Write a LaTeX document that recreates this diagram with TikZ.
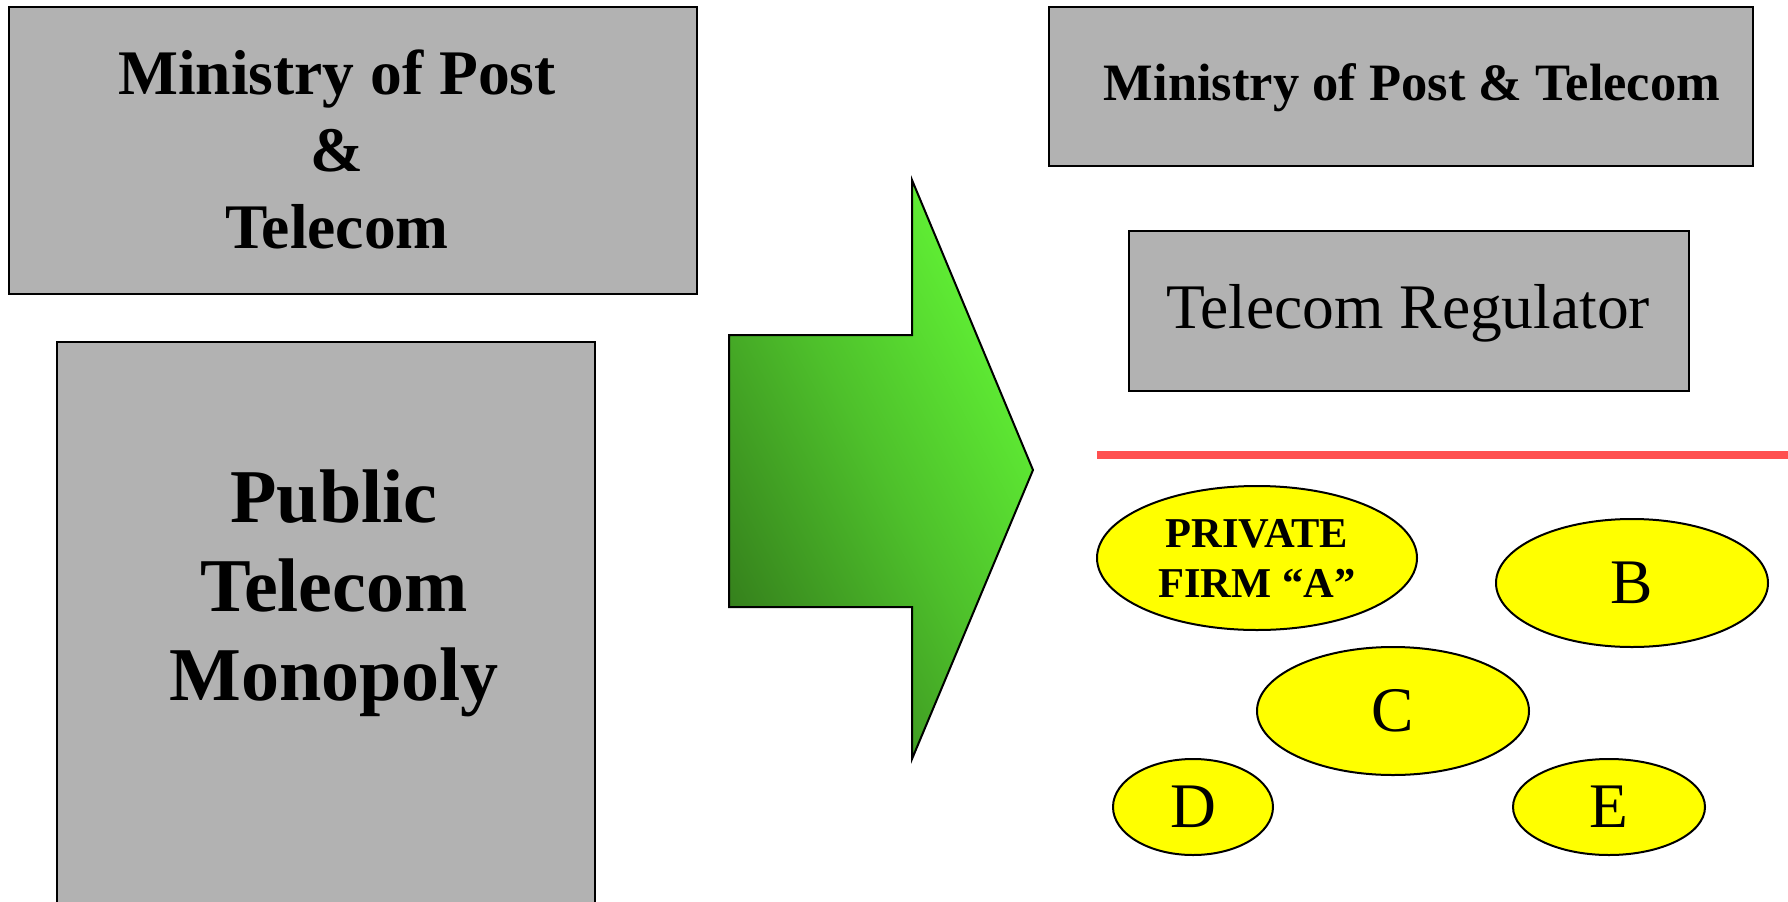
\documentclass[tikz,border=0pt]{standalone}
\usepackage{fontspec}
\setmainfont{Liberation Serif}
\usetikzlibrary{shapes.geometric}
\definecolor{boxgrey}{HTML}{B2B2B2}
\definecolor{firmyellow}{HTML}{FFFF00}
\definecolor{divred}{HTML}{FF5050}
\definecolor{arrowdark}{HTML}{35801C}
\definecolor{arrowmid}{HTML}{4EC02B}
\definecolor{arrowbright}{HTML}{63F736}
\begin{document}
\begin{tikzpicture}[x=1pt,y=-1pt,
  greybox/.style={draw=black,fill=boxgrey,line width=2.4pt,inner sep=0pt},
  firm/.style={ellipse,draw=black,fill=firmyellow,line width=2pt,inner sep=0pt},
  boldtxt/.style={anchor=base,inner sep=0pt,font=\bfseries\fontsize{#1}{#1}\selectfont},
  plaintxt/.style={anchor=base,inner sep=0pt,font=\fontsize{#1}{#1}\selectfont},
  letter/.style={font=\fontsize{63.5}{76}\selectfont}]
\useasboundingbox (0,0) rectangle (1788,902);
\clip (0,0) rectangle (1788,902);

% left boxes
\node[greybox,minimum width=688pt,minimum height=287pt] (ministryold) at (353,150.5) {};
\node[boldtxt=63.5] (mo1) at (337,94) {Ministry of Post};
\node[boldtxt=63.5] (mo2) at (337,171) {\&};
\node[boldtxt=63.5] (mo3) at (337,248) {Telecom};

\node[greybox,minimum width=538pt,minimum height=588pt] (monopoly) at (326,636) {};
\node[boldtxt=76] (mp1) at (334,522) {Public};
\node[boldtxt=76] (mp2) at (334,611) {Telecom};
\node[boldtxt=76] (mp3) at (334,700) {Monopoly};

% big arrow
\draw[line width=2pt,bottom color=arrowdark,top color=arrowbright,middle color=arrowmid,shading angle=-62]
  (729,335) -- (912,335) -- (912,180) -- (1033,470) -- (912,759) -- (912,607) -- (729,607) -- cycle;

% right boxes
\node[greybox,minimum width=704pt,minimum height=159pt] (ministrynew) at (1401,86.5) {};
\node[boldtxt=52.5] (mn1) at (1412,100) {Ministry of Post \& Telecom};

\node[greybox,minimum width=560pt,minimum height=160pt] (regulator) at (1409,311) {};
\node[plaintxt=63.5] (rg1) at (1408,328) {Telecom Regulator};

% red divider
\coordinate (redL) at (1097,455);
\coordinate (redR) at (1790,455);
\draw[divred,line width=8pt] (redL) -- (redR);

% firms
\node[firm,minimum width=320pt,minimum height=144pt,align=center,
  font=\bfseries\fontsize{42.5}{50}\selectfont] (firmA) at (1257,558) {PRIVATE\\FIRM “A”};
\node[firm,letter,minimum width=272pt,minimum height=128pt] (firmB) at (1632,583) {B};
\node[firm,letter,minimum width=272pt,minimum height=128pt] (firmC) at (1393,711) {C};
\node[firm,letter,minimum width=160pt,minimum height=96pt] (firmD) at (1193,807) {D};
\node[firm,letter,minimum width=192pt,minimum height=96pt] (firmE) at (1609,807) {E};
\end{tikzpicture}
\end{document}
